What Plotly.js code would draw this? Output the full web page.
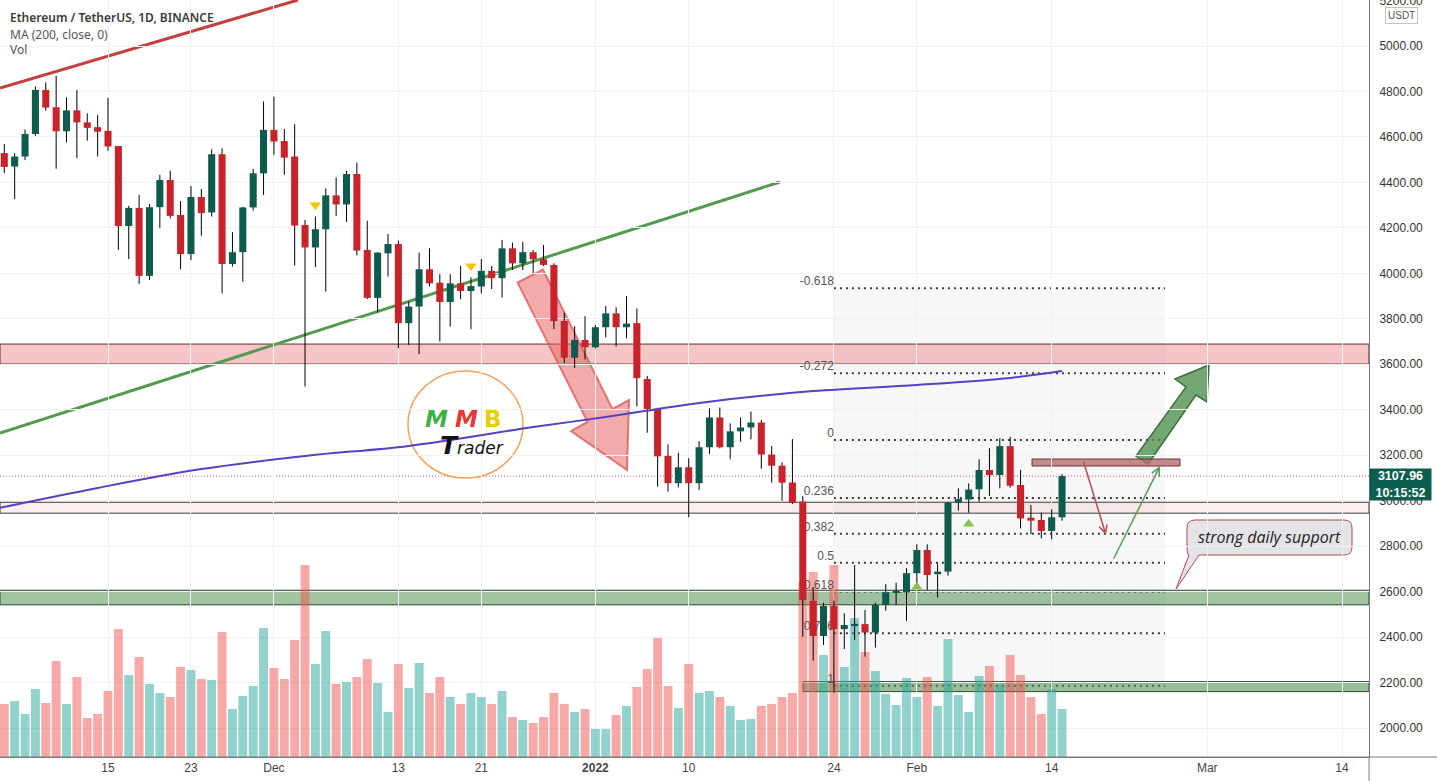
<!DOCTYPE html>
<html>
<head>
<meta charset="utf-8">
<script src="https://cdn.plot.ly/plotly-3.0.1.min.js"></script>
<style>
  html, body { margin: 0; padding: 0; background: #fff; }
  #chart { width: 1437px; height: 781px; }
</style>
</head>
<body>
<div id="chart"></div>
<script>
// ETH / USDT daily candles, 5 Nov 2021 .. 15 Feb 2022
const open = [4529, 4470, 4514, 4613, 4807, 4731, 4625, 4717, 4664, 4643, 4627, 4560, 4208, 4288, 3989, 4291, 4411, 4257, 4085, 4336,
  4268, 4524, 4041, 4093, 4290, 4440, 4631, 4582, 4514, 4213, 4114, 4194, 4343, 4303, 4437, 4103, 3892, 4088, 4129, 3781,
  3854, 4018, 3959, 3874, 3956, 3922, 3942, 4011, 3979, 4110, 4044, 4093, 4062, 4037, 3790, 3629, 3707, 3675, 3763, 3824,
  3763, 3781, 3535, 3404, 3197, 3077, 3147, 3077, 3235, 3366, 3235, 3305, 3322, 3344, 3203, 3154, 3080, 2996, 2559, 2405,
  2537, 2435, 2453, 2457, 2420, 2541, 2597, 2597, 2681, 2783, 2677, 2688, 2991, 3005, 3050, 3135, 3113, 3240, 3069, 2925,
  2915, 2867, 2927];
const high = [4569, 4528, 4633, 4822, 4840, 4868, 4774, 4807, 4704, 4696, 4772, 4560, 4297, 4345, 4305, 4433, 4451, 4318, 4384, 4371,
  4546, 4550, 4181, 4293, 4459, 4756, 4777, 4635, 4656, 4235, 4250, 4374, 4422, 4450, 4487, 4231, 4093, 4173, 4144, 3876,
  4091, 4110, 3996, 3996, 4033, 3983, 4063, 4032, 4147, 4135, 4139, 4103, 4125, 4044, 3827, 3768, 3812, 3773, 3856, 3851,
  3900, 3846, 3549, 3409, 3248, 3211, 3187, 3262, 3406, 3410, 3340, 3366, 3392, 3355, 3240, 3169, 3271, 3020, 2619, 2551,
  2560, 2505, 2717, 2519, 2551, 2633, 2639, 2703, 2808, 2808, 2724, 2995, 3054, 3076, 3182, 3231, 3274, 3281, 3135, 2981,
  2947, 2962, 3117];
const low = [4441, 4326, 4498, 4605, 4716, 4460, 4576, 4507, 4584, 4514, 4539, 4103, 4063, 3953, 3971, 4199, 4242, 4018, 4058, 4166,
  4250, 3912, 4030, 3963, 4276, 4345, 4521, 4433, 4034, 3502, 4028, 3920, 4253, 4226, 4079, 3887, 3827, 3986, 3671, 3685,
  3644, 3942, 3700, 3766, 3886, 3754, 3912, 3931, 3894, 4015, 4015, 4001, 4032, 3755, 3605, 3584, 3621, 3670, 3718, 3678,
  3714, 3414, 3299, 3062, 3040, 3059, 2927, 3047, 3205, 3230, 3183, 3259, 3270, 3140, 3079, 3000, 2985, 2401, 2296, 2365,
  2155, 2347, 2387, 2314, 2354, 2516, 2541, 2471, 2629, 2607, 2574, 2671, 2956, 2947, 2996, 3021, 3054, 3058, 2878, 2853,
  2834, 2830, 2912];
const close = [4468, 4514, 4613, 4807, 4729, 4625, 4717, 4664, 4640, 4623, 4558, 4208, 4288, 3989, 4291, 4411, 4253, 4085, 4336, 4265,
  4524, 4041, 4093, 4290, 4440, 4631, 4580, 4509, 4210, 4114, 4194, 4343, 4303, 4437, 4100, 3892, 4091, 4129, 3781, 3854,
  4018, 3956, 3874, 3956, 3922, 3944, 4011, 3979, 4110, 4044, 4093, 4062, 4037, 3790, 3629, 3707, 3675, 3763, 3824, 3763,
  3779, 3539, 3403, 3195, 3077, 3147, 3077, 3235, 3366, 3235, 3305, 3322, 3344, 3203, 3154, 3079, 2991, 2563, 2405, 2537,
  2435, 2453, 2458, 2420, 2541, 2597, 2601, 2681, 2783, 2673, 2688, 2991, 3007, 3049, 3135, 3113, 3240, 3066, 2922, 2912,
  2867, 2927, 3108];
// volume, thousand ETH
const volume = [398, 420, 323, 510, 405, 720, 398, 600, 293, 323, 495, 960, 615, 750, 548, 480, 450, 675, 653, 585,
  578, 938, 360, 458, 533, 968, 668, 585, 878, 1440, 698, 945, 548, 563, 600, 735, 555, 338, 698, 518,
  705, 480, 600, 450, 398, 480, 450, 398, 495, 300, 278, 255, 300, 480, 398, 338, 360, 210, 210, 315,
  383, 525, 660, 893, 533, 368, 698, 480, 495, 450, 383, 278, 285, 383, 398, 450, 480, 1313, 1388, 765,
  1440, 675, 1043, 788, 645, 473, 390, 593, 450, 600, 383, 885, 465, 338, 608, 683, 540, 765, 615, 450,
  323, 510, 360];

// MA(200, close) read at a few points along the purple line
const maDates = ['2021-11-04', '2021-11-14', '2021-11-24', '2021-12-04', '2021-12-14', '2021-12-26',
  '2022-01-02', '2022-01-11', '2022-01-22', '2022-02-01', '2022-02-10', '2022-02-15'];
const maValues = [2963, 3056, 3139, 3197, 3241, 3324, 3368, 3430, 3482, 3509, 3540, 3570];

// fib retracement drawn from the 24 Jan low to the 10 Feb high
const fibLabels = ['-0.618', '-0.272', '0', '0.236', '0.382', '0.5', '0.618', '0.786', '1'];
const fibPrices = [3935, 3561, 3267, 3012, 2854, 2727, 2599, 2417, 2186];
const fibStart = '2022-01-24';

// support / resistance zones [low, high]
const pinkZone = [3601, 3689];
const lightZone = [2945, 2993];
const greenZone = [2542, 2606];
const lowZone = [2160, 2204];

const sigDownDates = ['2021-12-05', '2021-12-20'];
const sigDownPrices = [4301, 4032];
const sigUpDates = ['2022-02-01', '2022-02-06'];
const sigUpPrices = [2620, 2897];

const lastPrice = 3107.96;

const tickDates = ['2021-11-15', '2021-11-23', '2021-12-01', '2021-12-13', '2021-12-21', '2022-01-01',
  '2022-01-10', '2022-01-24', '2022-02-01', '2022-02-14', '2022-03-01', '2022-03-14'];
const tickLabels = ['15', '23', 'Dec', '13', '21', '<b>2022</b>', '10', '24', 'Feb', '14', 'Mar', '14'];

// one date per candle
const days = [];
for (let i = 0; i < close.length; i++) {
  days.push(new Date(Date.UTC(2021, 10, 5 + i)).toISOString().slice(0, 10));
}

// screen geometry of the screenshot, used for the hand drawings
const DAY = 864e5;
const plotW = 1369, plotH = 757;
function tx(px) { return Math.round(Date.UTC(2021, 10, 15) + (px - 108) / 10.37 * DAY); }
function ty(py) { return 2000 + (728 - py) * 4.399; }
function ds(ms) { return new Date(ms).toISOString().slice(0, 19).replace('T', ' '); }
function P(x, y) { return tx(x) + ',' + ty(y); }
function poly(pts) { return 'M' + pts.map(p => P(p[0], p[1])).join(' L') + ' Z'; }

const xLeft = ds(tx(0)), xRight = ds(tx(plotW));
const priceRange = [ty(plotH), ty(0)];

const up = close.map((c, i) => c >= open[i]);
const volColor = up.map(u => u ? 'rgba(38,166,154,0.5)' : 'rgba(239,83,80,0.5)');
const bodyColor = up.map(u => u ? '#0c5b4d' : '#c8222a');

let wickX = [], wickY = [];
days.forEach((d, i) => {
  wickX.push(d, d, null);
  wickY.push(low[i], high[i], null);
});

const traces = [
  { type: 'bar', x: days, y: volume, yaxis: 'y', width: 0.86 * DAY,
    marker: { color: volColor, line: { width: 0 } }, hoverinfo: 'skip' },
  { type: 'scatter', mode: 'text', x: fibLabels.map(() => fibStart), y: fibPrices, text: fibLabels,
    yaxis: 'y2', textposition: 'top left', cliponaxis: false,
    textfont: { family: 'Liberation Sans, Arial, sans-serif', size: 12, color: '#555' }, hoverinfo: 'skip' },
  { type: 'scatter', mode: 'lines', x: wickX, y: wickY, yaxis: 'y2',
    line: { color: '#000', width: 1 }, hoverinfo: 'skip' },
  { type: 'bar', x: days, base: close.map((c, i) => Math.min(c, open[i])),
    y: close.map((c, i) => Math.max(Math.abs(c - open[i]), 4.5)), yaxis: 'y3', width: 0.68 * DAY,
    marker: { color: bodyColor, line: { width: 0 } }, hoverinfo: 'skip' },
  { type: 'scatter', mode: 'lines', x: maDates, y: maValues, yaxis: 'y3',
    line: { color: '#5b3ec2', width: 2, shape: 'spline' }, hoverinfo: 'skip' },
  { type: 'scatter', mode: 'markers', x: sigDownDates, y: sigDownPrices, yaxis: 'y3',
    marker: { symbol: 'triangle-down', size: 10, color: '#f5c400' }, hoverinfo: 'skip' },
  { type: 'scatter', mode: 'markers', x: sigUpDates, y: sigUpPrices, yaxis: 'y3',
    marker: { symbol: 'triangle-up', size: 10, color: '#86c24a' }, hoverinfo: 'skip' }
];

const fibEnd = ds(tx(1165));
const shapes = [];

function zone(z, x0, fill, edge) {
  shapes.push({ type: 'rect', xref: 'x', yref: 'y2', x0: x0, x1: xRight, y0: z[0], y1: z[1],
    fillcolor: fill, line: { color: edge, width: 1 }, layer: 'below' });
}

// fib box and levels
shapes.push({ type: 'rect', xref: 'x', yref: 'y2', x0: fibStart, x1: fibEnd,
  y0: fibPrices[fibPrices.length - 1], y1: fibPrices[0],
  fillcolor: 'rgba(110,110,120,0.055)', line: { width: 0 }, layer: 'below' });
fibPrices.forEach(p => shapes.push({ type: 'line', xref: 'x', yref: 'y2', x0: fibStart, x1: fibEnd, y0: p, y1: p,
  line: { color: '#3a3a3a', width: 2, dash: '2px,4px' }, layer: 'below' }));

zone(pinkZone, xLeft, 'rgba(232,110,110,0.4)', '#4d3232');
zone(lightZone, xLeft, 'rgba(232,150,150,0.16)', '#3c3c3c');
zone(greenZone, xLeft, 'rgba(85,145,85,0.55)', '#2d482d');
zone(lowZone, ds(tx(803)), 'rgba(85,145,85,0.6)', '#2d482d');

// last price line
shapes.push({ type: 'line', xref: 'x', yref: 'y2', x0: xLeft, x1: xRight, y0: lastPrice, y1: lastPrice,
  line: { color: 'rgba(205,60,60,0.9)', width: 1, dash: '1px,2px' }, layer: 'below' });

// trend lines
shapes.push({ type: 'line', xref: 'x', yref: 'y2', x0: xLeft, y0: ty(88), x1: ds(tx(298)), y1: ty(0),
  line: { color: '#c73e3e', width: 3 }, layer: 'below' });
shapes.push({ type: 'line', xref: 'x', yref: 'y2', x0: xLeft, y0: ty(433), x1: ds(tx(780)), y1: ty(182),
  line: { color: '#55994f', width: 3 }, layer: 'below' });

// big red arrow
shapes.push({ type: 'path', xref: 'x', yref: 'y2', layer: 'below',
  path: poly([[543, 269.5], [612.5, 409], [629, 400], [627, 470], [571, 431], [587.5, 422], [517.5, 282.5]]),
  fillcolor: 'rgba(232,100,100,0.55)', line: { color: 'rgba(215,85,85,0.75)', width: 2 } });

// big green arrow
shapes.push({ type: 'path', xref: 'x', yref: 'y2', layer: 'below',
  path: poly([[1148, 464], [1196, 395], [1207, 402], [1209, 365], [1175, 379], [1186, 387], [1136, 456]]),
  fillcolor: 'rgba(80,145,80,0.8)', line: { color: '#3f6e3f', width: 1.5 } });

// resistance marker bar
shapes.push({ type: 'rect', xref: 'x', yref: 'y2', x0: ds(tx(1032)), x1: ds(tx(1180)), y0: ty(466), y1: ty(459),
  fillcolor: 'rgba(180,110,110,0.8)', line: { color: '#6a3434', width: 1 }, layer: 'below' });

// callout bubble
shapes.push({ type: 'path', xref: 'x', yref: 'y2', layer: 'below',
  path: 'M' + P(1195, 520) + ' L' + P(1344, 520) + ' Q' + P(1352, 520) + ' ' + P(1352, 528) +
    ' L' + P(1352, 547) + ' Q' + P(1352, 555) + ' ' + P(1344, 555) + ' L' + P(1199, 555) +
    ' L' + P(1176, 589) + ' L' + P(1189, 555) + ' Q' + P(1187, 555) + ' ' + P(1187, 547) +
    ' L' + P(1187, 528) + ' Q' + P(1187, 520) + ' ' + P(1195, 520) + ' Z',
  fillcolor: '#e4e4e8', line: { color: '#b5484f', width: 1 } });

// logo ring
shapes.push({ type: 'circle', xref: 'x', yref: 'y2', x0: ds(tx(408)), x1: ds(tx(523)), y0: ty(478), y1: ty(371),
  fillcolor: '#fff', line: { color: '#f0a25c', width: 1.5 }, layer: 'below' });

// axis lines running into the margins
shapes.push({ type: 'line', xref: 'paper', yref: 'paper', x0: 0, x1: 1437 / plotW, y0: 0, y1: 0,
  line: { color: '#7a7a7a', width: 1 } });
shapes.push({ type: 'line', xref: 'paper', yref: 'paper', x0: 1, x1: 1, y0: 0, y1: -24 / plotH,
  line: { color: '#7a7a7a', width: 1 } });

function px(x) { return x / plotW; }
function py(y) { return 1 - y / plotH; }

// paper-anchored text; anchors are set explicitly (auto would flip them near the edges)
function label(x, y, text, font, extra) {
  return Object.assign({ xref: 'paper', yref: 'paper', x: px(x), y: py(y), xanchor: 'center', yanchor: 'middle',
    showarrow: false, text: text, font: font }, extra || {});
}

const legendFont = { family: 'Noto Sans, sans-serif', size: 12, color: '#555' };
const logoFont = { family: 'DejaVu Sans', size: 23, weight: 'bold', style: 'italic' };
const annotations = [
  label(8, 17, 'Ethereum / TetherUS, 1D, BINANCE', Object.assign({}, legendFont, { color: '#3a3a3a', weight: 600 }), { xanchor: 'left' }),
  label(8, 34, 'MA (200, close, 0)', legendFont, { xanchor: 'left' }),
  label(8, 50, 'Vol', legendFont, { xanchor: 'left' }),
  label(1401, 15, 'USDT', { family: 'Liberation Sans, Arial', size: 10, color: '#555' },
    { bordercolor: '#c4c4c4', borderwidth: 1, borderpad: 2, bgcolor: '#fff' }),
  label(plotW, 484.5, '<b>' + lastPrice.toFixed(2) + '</b><br><b>10:15:52</b>',
    { family: 'Liberation Sans, Arial', size: 12.5, color: '#fff' },
    { xanchor: 'left', align: 'center', width: 59, height: 29, borderpad: 1, bgcolor: '#0b5e50' }),
  label(1269.5, 537, 'strong daily support', { family: 'Open Sans, sans-serif', size: 16, color: '#222', style: 'italic' }),
  // logo
  label(436, 419, 'M', Object.assign({ color: '#3fae49' }, logoFont)),
  label(466, 419, 'M', Object.assign({ color: '#e53935' }, logoFont)),
  label(493, 419, 'B', Object.assign({ color: '#e3d000' }, logoFont, { style: 'normal' })),
  label(472, 446, '<span style="font-size:25px"><b>T</b></span>rader',
    { family: 'DejaVu Sans', size: 17, color: '#111', style: 'italic' }),
  // thin hand-drawn arrows
  { xref: 'x', yref: 'y2', x: ds(tx(1106)), y: ty(535), ax: -23, ay: -75, showarrow: true, text: '',
    arrowhead: 5, arrowsize: 1, arrowwidth: 1.6, arrowcolor: '#b45656', standoff: 0 },
  { xref: 'x', yref: 'y2', x: ds(tx(1160)), y: ty(466), ax: -47, ay: 94, showarrow: true, text: '',
    arrowhead: 5, arrowsize: 1, arrowwidth: 1.6, arrowcolor: '#5f9d5f', standoff: 0 }
];

const layout = {
  width: 1437, height: 781,
  margin: { l: 0, r: 68, t: 0, b: 24, pad: 0 },
  paper_bgcolor: '#fff', plot_bgcolor: '#fff',
  showlegend: false,
  barmode: 'overlay',
  font: { family: 'Liberation Sans, Arial, sans-serif', size: 12, color: '#333' },
  xaxis: { type: 'date', range: [xLeft, xRight], tickvals: tickDates, ticktext: tickLabels,
    showgrid: true, gridcolor: '#eff1f4', showline: true, linecolor: '#7a7a7a', ticks: '',
    zeroline: false, tickfont: { size: 12, color: '#444' } },
  yaxis: { range: [0, plotH * 7.5], visible: false },
  yaxis2: { overlaying: 'y', side: 'right', range: priceRange, tick0: 2000, dtick: 200, tickformat: '.2f',
    showgrid: true, gridcolor: '#eff1f4', showline: true, linecolor: '#7a7a7a', zeroline: false,
    ticks: 'outside', ticklen: 7, tickcolor: 'rgba(0,0,0,0)', ticklabeloverflow: 'allow',
    tickfont: { size: 12, color: '#333' } },
  yaxis3: { overlaying: 'y', range: priceRange, visible: false },
  shapes: shapes,
  annotations: annotations
};

Plotly.newPlot('chart', traces, layout, { displayModeBar: false });
</script>
</body>
</html>
